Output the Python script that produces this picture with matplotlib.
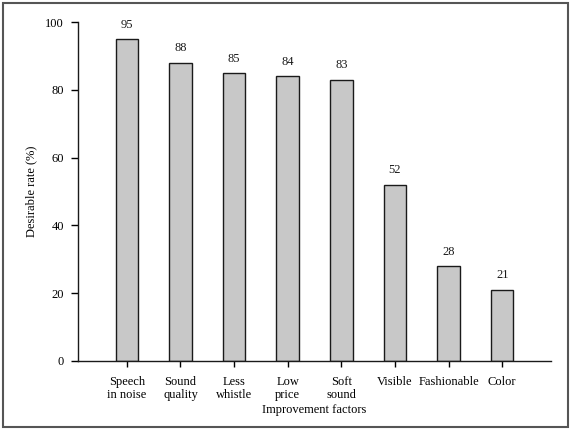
import matplotlib.pyplot as plt
from matplotlib.patches import Rectangle

categories = ["Speech\nin noise", "Sound\nquality", "Less\nwhistle", "Low\nprice",
              "Soft\nsound", "Visible", "Fashionable", "Color"]
values = [95, 88, 85, 84, 83, 52, 28, 21]

plt.rcParams['font.family'] = ['Liberation Serif', 'DejaVu Serif']

fig = plt.figure(figsize=(5.72, 4.3), dpi=100)
ax = fig.add_axes([0.1364, 0.1605, 0.8269, 0.7883])

x = range(len(categories))
bars = ax.bar(x, values, width=0.42, color="#c8c8c8", edgecolor="#1a1a1a", linewidth=1.0)
for xi, v in zip(x, values):
    ax.annotate(str(v), (xi, v), xytext=(0, 6), textcoords="offset points",
                ha="center", va="bottom", fontsize=9, color="#1a1a1a")

ax.set_xlim(-0.91, 7.91)
ax.set_ylim(0, 100)
ax.set_yticks([0, 20, 40, 60, 80, 100])
ax.set_xticks(list(x))
ax.set_xticklabels(categories, fontsize=9, linespacing=1.15)
ax.tick_params(axis="y", labelsize=9, length=5, width=1, direction="out", pad=5)
ax.tick_params(axis="x", length=4, width=1, direction="out", pad=6.5)
for s in ["top", "right"]:
    ax.spines[s].set_visible(False)
for s in ["left", "bottom"]:
    ax.spines[s].set_linewidth(1.0)
    ax.spines[s].set_color("#1a1a1a")

ax.set_ylabel("Desirable rate (%)", fontsize=9, labelpad=6)
ax.set_xlabel("Improvement factors", fontsize=9, labelpad=2)

fig.patches.append(Rectangle((3 / 572, 3 / 430), 565 / 572, 424 / 430, transform=fig.transFigure,
                             fill=False, edgecolor="#555555", linewidth=1.5))

fig.savefig("out.png", dpi=100)
